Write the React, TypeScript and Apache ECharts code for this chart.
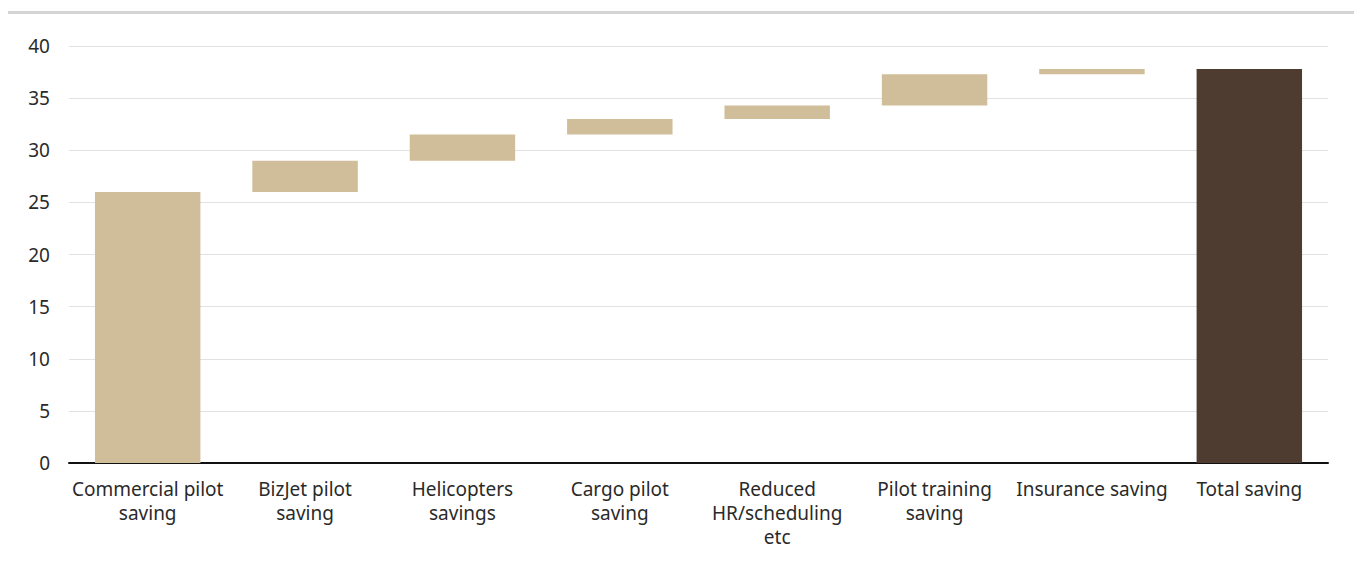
import React, { useEffect, useRef } from "react";
import * as echarts from "echarts";

const categories = [
  "Commercial pilot\nsaving",
  "BizJet pilot\nsaving",
  "Helicopters\nsavings",
  "Cargo pilot\nsaving",
  "Reduced\nHR/scheduling\netc",
  "Pilot training\nsaving",
  "Insurance saving",
  "Total saving",
];
// increments for each saving step (last entry is the total)
const increments = [26, 3, 2.5, 1.5, 1.3, 3, 0.5];
const yTicks = { min: 0, max: 40, interval: 5 };

export default function App() {
  const ref = useRef<HTMLDivElement>(null);
  useEffect(() => {
    document.body.style.margin = "0";
    if (!ref.current) return;
    const chart = echarts.init(ref.current, undefined, { renderer: "svg" });
    const bases: number[] = [];
    const vals: any[] = [];
    let cum = 0;
    increments.forEach((v) => {
      bases.push(cum);
      vals.push(v);
      cum += v;
    });
    const total = Math.round(cum * 10) / 10;
    bases.push(0);
    vals.push({ value: total, itemStyle: { color: "#4e3c31" } });

    chart.setOption({
      animation: false,
      textStyle: { fontFamily: "Noto Sans" },
      graphic: [
        {
          type: "rect",
          shape: { x: 8, y: 11, width: 1346, height: 3 },
          style: { fill: "#d4d4d4" },
          silent: true,
        },
      ],
      grid: { left: 69, right: 26, top: 46, bottom: 103, containLabel: false },
      xAxis: {
        type: "category",
        data: categories,
        axisLine: { lineStyle: { color: "#111", width: 2 } },
        axisTick: { show: false },
        axisLabel: {
          color: "#2a2a2a",
          fontSize: 19,
          lineHeight: 24,
          margin: 14,
          interval: 0,
          fontFamily: "Noto Sans",
        },
      },
      yAxis: {
        type: "value",
        min: yTicks.min,
        max: yTicks.max,
        interval: yTicks.interval,
        axisLine: { show: false },
        axisTick: { show: false },
        splitLine: { lineStyle: { color: "#e2e2e2", width: 1 } },
        axisLabel: { color: "#2a2a2a", fontSize: 19, margin: 19, fontFamily: "Noto Sans" },
      },
      series: [
        {
          type: "bar",
          stack: "w",
          data: bases,
          itemStyle: { color: "transparent" },
          barWidth: "67%",
          silent: true,
        },
        {
          type: "bar",
          stack: "w",
          data: vals,
          itemStyle: { color: "#d0bd9a" },
          barWidth: "67%",
        },
      ],
    });
    return () => chart.dispose();
  }, []);
  return <div ref={ref} style={{ width: 1354, height: 566 }} />;
}
